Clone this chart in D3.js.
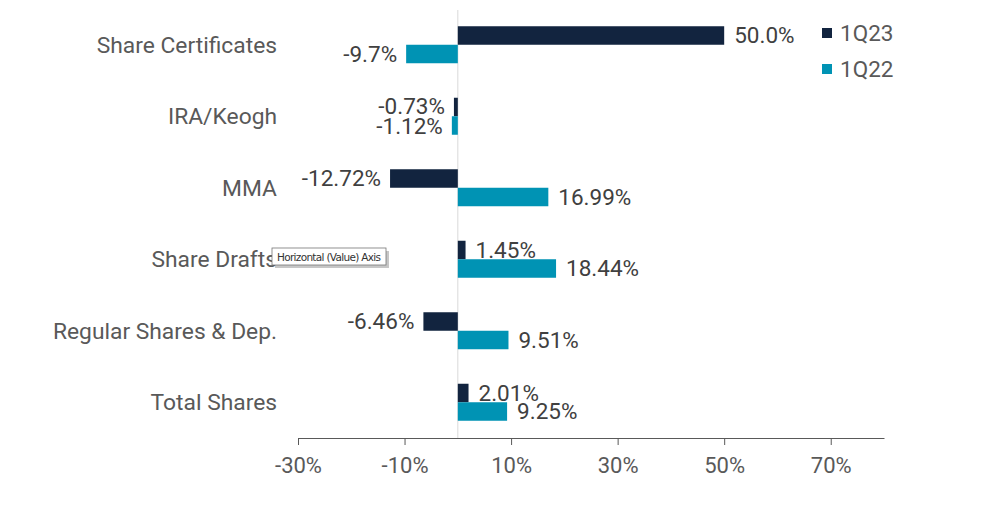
<!DOCTYPE html>
<html><head><meta charset="utf-8">
<script src="https://cdn.jsdelivr.net/npm/d3@7/dist/d3.min.js"></script>
<style>body{margin:0;background:#fff;}svg{display:block;font-family:Roboto,"Noto Sans",sans-serif;}</style>
</head><body>
<svg id="c" width="1000" height="513"></svg>
<script>
const categories = ["Share Certificates","IRA/Keogh","MMA","Share Drafts","Regular Shares & Dep.","Total Shares"];
const series = ["1Q23","1Q22"];
const values1Q23 = [50.0,-0.73,-12.72,1.45,-6.46,2.01];
const values1Q22 = [-9.7,-1.12,16.99,18.44,9.51,9.25];
const labels1Q23 = ["50.0%","-0.73%","-12.72%","1.45%","-6.46%","2.01%"];
const labels1Q22 = ["-9.7%","-1.12%","16.99%","18.44%","9.51%","9.25%"];
const tickValues = [-30,-10,10,30,50,70];
const colors = {"1Q23":"#12243f","1Q22":"#0093b4"};

const svg = d3.select("#c");
const x = d3.scaleLinear().domain([-30,80]).range([298,884]);
const y = d3.scaleBand().domain(categories).range([9,438]).padding(0);
const yInner = d3.scaleBand().domain(series).range([0,37]);
const off = (y.bandwidth()-37)/2;

svg.append("line").attr("x1",x(0)).attr("x2",x(0)).attr("y1",10).attr("y2",438)
  .attr("stroke","#d9d9d9").attr("stroke-width",1);

const data = [];
categories.forEach((c,i)=>{
  data.push({c, s:"1Q23", v:values1Q23[i], l:labels1Q23[i]});
  data.push({c, s:"1Q22", v:values1Q22[i], l:labels1Q22[i]});
});

svg.selectAll("rect.bar").data(data).enter().append("rect").attr("class","bar")
  .attr("x",d=>x(Math.min(0,d.v)))
  .attr("width",d=>Math.abs(x(d.v)-x(0)))
  .attr("y",d=>y(d.c)+off+yInner(d.s))
  .attr("height",yInner.bandwidth())
  .attr("fill",d=>colors[d.s]);

svg.selectAll("text.val").data(data).enter().append("text").attr("class","val")
  .attr("x",d=>d.v>=0 ? x(d.v)+10 : x(d.v)-9)
  .attr("y",d=>y(d.c)+off+yInner(d.s)+yInner.bandwidth()/2 + (d.c==="IRA/Keogh" ? (d.s==="1Q23"?-1:1) : 0))
  .attr("dy","0.35em")
  .attr("text-anchor",d=>d.v>=0?"start":"end")
  .attr("font-size",22.5).attr("fill","#404040")
  .text(d=>d.l);

svg.selectAll("text.cat").data(categories).enter().append("text").attr("class","cat")
  .attr("x",277).attr("y",d=>y(d)+y.bandwidth()/2).attr("dy","0.35em")
  .attr("text-anchor","end").attr("font-size",22.8).attr("fill","#595959").text(d=>d);

const ax = svg.append("g").attr("transform","translate(0,438)")
  .call(d3.axisBottom(x).tickValues(tickValues).tickSize(7).tickSizeOuter(0).tickFormat(d=>d+"%"));
ax.select(".domain").attr("stroke","#595959");
ax.selectAll(".tick line").attr("stroke","#595959");
ax.selectAll(".tick text").attr("font-size",22).attr("fill","#595959").attr("dy","1.15em")
  .attr("font-family","Roboto,'Noto Sans',sans-serif");

const lg = svg.append("g");
series.forEach((s,i)=>{
  lg.append("rect").attr("x",822).attr("y",28+i*36).attr("width",10).attr("height",10).attr("fill",colors[s]);
  lg.append("text").attr("x",840).attr("y",33+i*36).attr("dy","0.35em").attr("font-size",22.5)
    .attr("fill","#595959").text(s);
});

const tt = svg.append("g");
tt.append("rect").attr("x",275).attr("y",251).attr("width",114).attr("height",17).attr("fill","#a0a0a0").attr("opacity",0.6);
tt.append("rect").attr("x",272).attr("y",248).attr("width",114).attr("height",17).attr("fill","#fff").attr("stroke","#767676").attr("stroke-width",0.8);
tt.append("text").attr("x",277).attr("y",257).attr("dy","0.35em").attr("font-size",10.5)
  .attr("fill","#333").attr("font-family","'DejaVu Sans',sans-serif").attr("textLength",104).text("Horizontal (Value) Axis");
</script>
</body></html>
